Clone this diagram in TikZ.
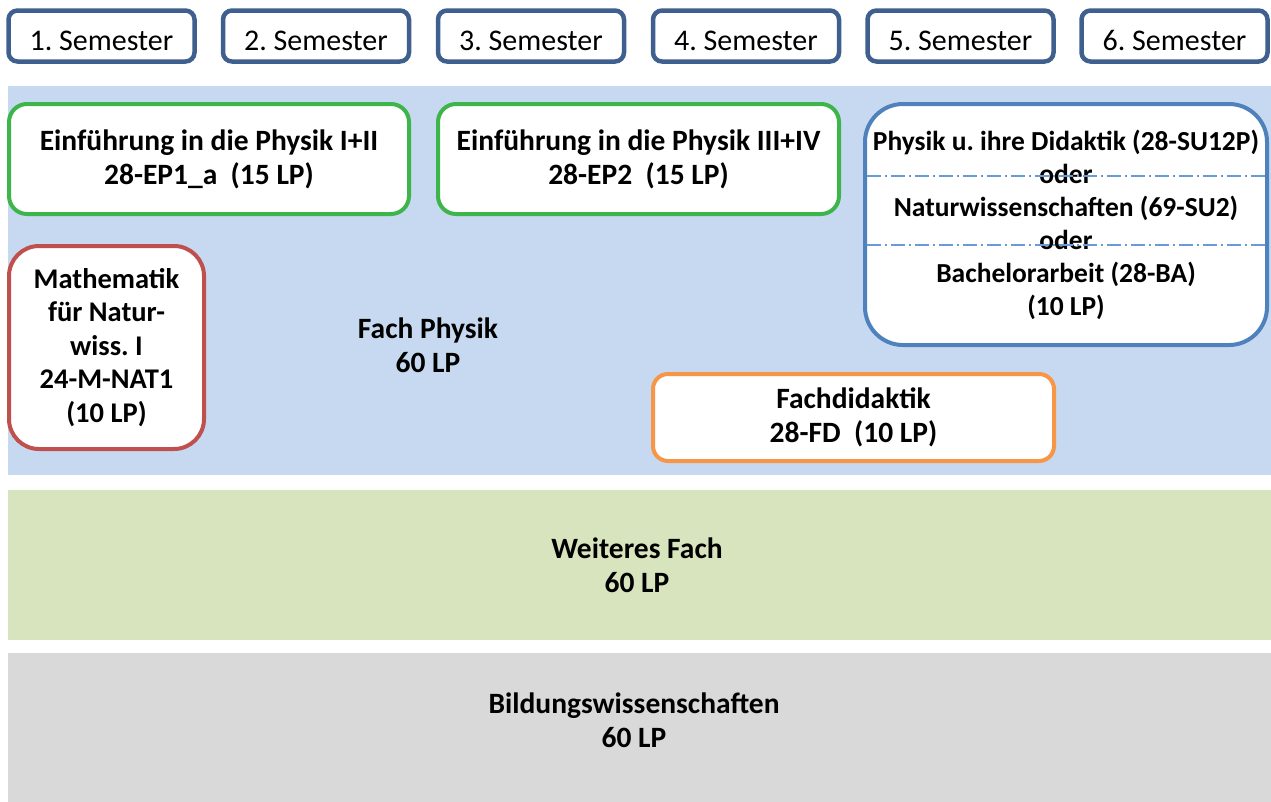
\documentclass[tikz,border=0pt]{standalone}
\usepackage{fontspec}
\setmainfont{Carlito}
\frenchspacing
\definecolor{semblue}{HTML}{3F5F8F}
\definecolor{bgblue}{HTML}{C6D9F1}
\definecolor{boxgreen}{HTML}{3DB54A}
\definecolor{boxblue}{HTML}{4F81BD}
\definecolor{boxred}{HTML}{C0504D}
\definecolor{boxorange}{HTML}{F79646}
\definecolor{bandgreen}{HTML}{D7E4BD}
\definecolor{bandgray}{HTML}{D9D9D9}
\definecolor{dashblue}{HTML}{6A9BD8}
\begin{document}
\begin{tikzpicture}[x=1pt,y=-1pt,
  sem/.style={draw=semblue, line width=4.5pt, rounded corners=9pt, fill=white,
    minimum width=186pt, minimum height=51pt, inner sep=0pt,
    text height=29pt, text depth=1pt,
    font=\fontsize{30}{34}\selectfont},
  module/.style={fill=white, line width=4pt, inner sep=0pt, align=center,
    font=\bfseries\fontsize{29.5}{34}\selectfont},
  area/.style={inner sep=0pt, draw=none},
  label/.style={inner sep=0pt, align=center, font=\bfseries\fontsize{29.5}{34}\selectfont},
  sep/.style={draw=dashblue, line width=1.2pt, dash pattern=on 14pt off 4pt on 2pt off 4pt}
]
\useasboundingbox (0,0) rectangle (1271,801);
% semesters
\node[sem] (s1) at (101.5,36) {1. Semester};
\node[sem] (s2) at (316,36) {2. Semester};
\node[sem] (s3) at (531,36) {3. Semester};
\node[sem] (s4) at (746,36) {4. Semester};
\node[sem] (s5) at (960.5,36) {5. Semester};
\node[sem] (s6) at (1174.5,36) {6. Semester};
% backgrounds
\node[area, fill=bgblue, minimum width=1263pt, minimum height=389pt] (bg) at (639.5,280.5) {};
\node[area, fill=bandgreen, minimum width=1263pt, minimum height=150pt] (wf) at (639.5,565) {};
\node[area, fill=bandgray, minimum width=1263pt, minimum height=150pt] (bw) at (639.5,728) {};
% modules
\node[module, draw=boxgreen, rounded corners=18pt, minimum width=400pt, minimum height=110pt] (ep1) at (209,159)
  {Einführung in die Physik I+II\\28-EP1\_a\ \ (15 LP)};
\node[module, draw=boxgreen, rounded corners=18pt, minimum width=401pt, minimum height=110pt] (ep2) at (638.5,159)
  {Einführung in die Physik III+IV\\28-EP2\ \ (15 LP)};
\node[module, draw=boxred, rounded corners=30pt, minimum width=195pt, minimum height=203pt,
  font=\bfseries\fontsize{28.5}{33.5}\selectfont] (ma) at (106.5,347.5)
  {Mathematik\\für Natur-\\wiss. I\\24-M-NAT1\\(10 LP)};
\node[module, draw=boxorange, rounded corners=15pt, minimum width=401pt, minimum height=87pt] (fd) at (853.5,417.5)
  {Fachdidaktik\\28-FD\ \ (10 LP)};
\node[module, draw=boxblue, rounded corners=38pt, minimum width=402pt, minimum height=241pt,
  font=\bfseries\fontsize{27.5}{33}\selectfont] (su) at (1066,224.5)
  {Physik u. ihre Didaktik (28-SU12P)\\oder\\Naturwissenschaften (69-SU2)\\oder\\Bachelorarbeit (28-BA)\\(10 LP)};
\coordinate (l1a) at (867,176); \coordinate (l1b) at (1265,176);
\coordinate (l2a) at (867,245); \coordinate (l2b) at (1265,245);
\draw[sep] (l1a) -- (l1b);
\draw[sep] (l2a) -- (l2b);
% labels
\node[label] (fp) at (428,345.5) {Fach Physik\\60 LP};
\node[label] (wft) at (637,565) {Weiteres Fach\\60 LP};
\node[label] (bwt) at (634,720) {Bildungswissenschaften\\60 LP};
\end{tikzpicture}
\end{document}
